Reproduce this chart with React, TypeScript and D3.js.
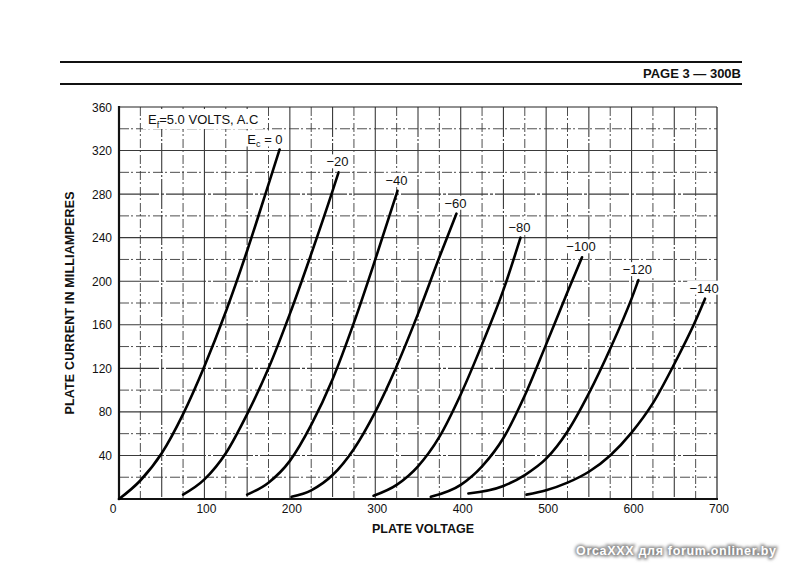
import React from "react";
import * as d3 from "d3";

// ---- data ----
const plateVoltageTicks = [0, 100, 200, 300, 400, 500, 600, 700];
const plateCurrentTicks = [40, 80, 120, 160, 200, 240, 280, 320, 360];

const curveLabels = ["0", "−20", "−40", "−60", "−80", "−100", "−120", "−140"];

// [plate voltage, plate current mA]
const ec0 = [[0, 0], [25, 17], [50, 42], [75, 78], [100, 122], [125, 172], [150, 228], [175, 289], [188, 321]];
const ec20 = [[75, 4], [100, 18], [125, 42], [150, 78], [175, 120], [200, 170], [225, 225], [250, 283], [257, 300]];
const ec40 = [[150, 4], [175, 15], [200, 35], [225, 68], [250, 110], [275, 162], [300, 220], [326, 283]];
const ec60 = [[202, 2], [225, 8], [250, 22], [275, 46], [300, 80], [325, 122], [350, 170], [375, 222], [395, 262]];
const ec80 = [[298, 3], [325, 13], [350, 30], [375, 57], [400, 96], [425, 142], [450, 192], [470, 240]];
const ec100 = [[365, 2], [400, 13], [425, 30], [450, 56], [475, 95], [500, 142], [525, 190], [542, 222]];
const ec120 = [[409, 5], [450, 12], [475, 22], [500, 37], [525, 62], [550, 97], [575, 138], [600, 184], [608, 201]];
const ec140 = [[477, 4], [500, 8], [525, 15], [550, 25], [575, 40], [600, 61], [625, 88], [650, 124], [675, 164], [686, 184]];

const curveSeries = [ec0, ec20, ec40, ec60, ec80, ec100, ec120, ec140];

const W = 800;
const H = 574;

export default function App() {
  const x = d3.scaleLinear().domain([0, 700]).range([119, 717]);
  const y = d3.scaleLinear().domain([0, 360]).range([499, 107]);

  const line = d3
    .line<number[]>()
    .x((d) => x(d[0]))
    .y((d) => y(d[1]))
    .curve(d3.curveMonotoneX);

  const vGrid = d3.range(25, 700, 25);
  const hGrid = d3.range(20, 360, 20);

  const font = "'Liberation Sans', Arial, sans-serif";

  return (
    <svg
      width={W}
      height={H}
      viewBox={`0 0 ${W} ${H}`}
      style={{ position: "absolute", left: 0, top: 0, display: "block", background: "#fff" }}
    >
      <defs>
        <filter id="glow" x="-10%" y="-50%" width="120%" height="200%">
          <feGaussianBlur stdDeviation="1.4" />
        </filter>
      </defs>
      <rect x={0} y={0} width={W} height={H} fill="#fff" />

      {/* header */}
      <line x1={60} x2={742} y1={62} y2={62} stroke="#111" strokeWidth={2.2} />
      <line x1={60} x2={742} y1={84} y2={84} stroke="#111" strokeWidth={2.2} />
      <text
        x={741}
        y={78}
        textAnchor="end"
        fontFamily={font}
        fontWeight="bold"
        fontSize={13}
        fill="#111"
      >
        PAGE  3 — 300B
      </text>

      {/* grid */}
      <g>
        {vGrid.map((v) => (
          <line
            key={"v" + v}
            x1={x(v)}
            x2={x(v)}
            y1={y(360)}
            y2={y(0)}
            stroke="#3a3a3a"
            strokeWidth={v % 50 === 0 ? 1.1 : 0.9}
            strokeDasharray={v % 50 === 0 ? (v % 100 === 0 ? undefined : "30,2,2,2") : "9,2,2,3"}
          />
        ))}
        {hGrid.map((i) => (
          <line
            key={"h" + i}
            x1={x(0)}
            x2={x(700)}
            y1={y(i)}
            y2={y(i)}
            stroke="#3a3a3a"
            strokeWidth={i % 40 === 0 ? 1.1 : 0.9}
            strokeDasharray={i % 40 === 0 ? (i % 80 === 0 ? undefined : "40,2,3,2") : "10,2,2,3"}
          />
        ))}
      </g>

      {/* frame */}
      <line x1={x(0)} x2={x(700)} y1={y(360)} y2={y(360)} stroke="#222" strokeWidth={1.2} />
      <line x1={x(700)} x2={x(700)} y1={y(360)} y2={y(0)} stroke="#222" strokeWidth={1.2} />
      <line x1={x(0)} x2={x(0)} y1={y(360) - 1} y2={y(0) + 1} stroke="#111" strokeWidth={2.2} />
      <line x1={x(0) - 1} x2={x(700) + 1} y1={y(0)} y2={y(0)} stroke="#111" strokeWidth={2.2} />

      {/* filament legend */}
      <rect x={143} y={109} width={120} height={20} fill="#fff" />
      <text x={148} y={124} fontFamily={font} fontSize={13} fill="#111">
        E<tspan fontSize={9} dy={4}>f</tspan>
        <tspan dy={-4}>=5.0 VOLTS, A.C</tspan>
      </text>

      {/* curves */}
      {curveSeries.map((pts, k) => (
        <path
          key={"c" + k}
          d={line(pts) || ""}
          fill="none"
          stroke="#000"
          strokeWidth={2.6}
          strokeLinecap="round"
        />
      ))}

      {/* curve labels */}
      {curveSeries.map((pts, k) => {
        const last = pts[pts.length - 1];
        const px = x(last[0]);
        const py = y(last[1]);
        if (k === 0) {
          return (
            <g key={"l" + k}>
              <rect x={px - 34} y={py - 19} width={38} height={16} fill="#fff" />
              <text x={px + 3} y={py - 5} textAnchor="end" fontFamily={font} fontSize={13} fill="#111">
                E<tspan fontSize={9} dy={3}>c</tspan>
                <tspan dy={-3}> = {curveLabels[k]}</tspan>
              </text>
            </g>
          );
        }
        const tw = curveLabels[k].length * 7.4;
        return (
          <g key={"l" + k}>
            <rect x={px - 1 - tw / 2 - 2} y={py - 18} width={tw + 4} height={14} fill="#fff" />
            <text
              x={px - 1}
              y={py - 6}
              textAnchor="middle"
              fontFamily={font}
              fontSize={13}
              fill="#111"
            >
              {curveLabels[k]}
            </text>
          </g>
        );
      })}

      {/* y axis tick labels */}
      {plateCurrentTicks.map((t) => (
        <text
          key={"yt" + t}
          x={112}
          y={y(t) + 4.5}
          textAnchor="end"
          fontFamily={font}
          fontSize={12}
          fill="#111"
        >
          {t}
        </text>
      ))}

      {/* x axis tick labels */}
      {plateVoltageTicks.map((t) => (
        <text
          key={"xt" + t}
          x={t === 0 ? x(t) - 6 : x(t) + 2}
          y={513}
          textAnchor="middle"
          fontFamily={font}
          fontSize={12}
          fill="#111"
        >
          {t}
        </text>
      ))}

      {/* axis titles */}
      <text
        x={423}
        y={533}
        textAnchor="middle"
        fontFamily={font}
        fontWeight="bold"
        fontSize={12.5}
        fill="#111"
      >
        PLATE VOLTAGE
      </text>
      <text
        transform={`translate(74, 303) rotate(-90)`}
        textAnchor="middle"
        fontFamily={font}
        fontWeight="bold"
        fontSize={12.5}
        fill="#111"
        textLength={223}
        lengthAdjust="spacing"
      >
        PLATE CURRENT IN MILLIAMPERES
      </text>

      {/* watermark */}
      <g fontFamily={font} fontWeight="bold" fontSize={12.5}>
        <text
          x={676}
          y={555}
          textAnchor="middle"
          fill="#8a8a8a"
          stroke="#8a8a8a"
          strokeWidth={3}
          filter="url(#glow)"
          textLength={200}
          lengthAdjust="spacing"
        >
          OrcaXXX для forum.onliner.by
        </text>
        <text x={676} y={555} textAnchor="middle" fill="#fff" textLength={200} lengthAdjust="spacing">
          OrcaXXX для forum.onliner.by
        </text>
      </g>
    </svg>
  );
}
